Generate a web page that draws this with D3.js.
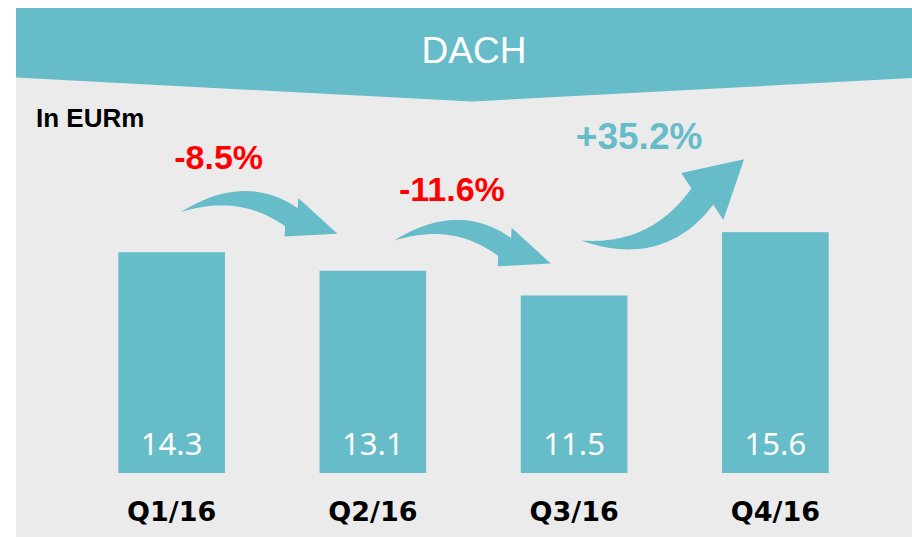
<!DOCTYPE html>
<html>
<head>
<meta charset="utf-8">
<script src="https://cdn.jsdelivr.net/npm/d3@7"></script>
<style>
  html, body { margin: 0; padding: 0; background: #fff; }
  svg { display: block; }
</style>
</head>
<body>
<div id="chart"></div>
<script>
const title = 'DACH'
const unitLabel = 'In EURm'
const categories = ['Q1/16', 'Q2/16', 'Q3/16', 'Q4/16']
const values = [14.3, 13.1, 11.5, 15.6]
const changes = ['-8.5%', '-11.6%', '+35.2%']

const width = 912
const height = 537
const teal = '#66bcc8'
const panel = '#ebebeb'

const svg = d3.select('#chart').append('svg')
  .attr('width', width)
  .attr('height', height)

// grey panel + banner
svg.append('rect')
  .attr('x', 16).attr('y', 8)
  .attr('width', width - 16).attr('height', height - 8)
  .attr('fill', panel)

svg.append('path')
  .attr('d', 'M16,8 L912,8 L912,78 L472,101.5 L16,77.5 Z')
  .attr('fill', teal)

svg.append('text')
  .attr('x', 474).attr('y', 63)
  .attr('text-anchor', 'middle')
  .attr('font-family', '"Liberation Sans", Arial, sans-serif')
  .attr('font-size', 37)
  .attr('fill', '#fff')
  .text(title)

svg.append('text')
  .attr('x', 36).attr('y', 127)
  .attr('font-family', '"Liberation Sans", Arial, sans-serif')
  .attr('font-weight', 'bold')
  .attr('font-size', 26)
  .attr('fill', '#000')
  .text(unitLabel)

const xScale = d3.scaleBand()
  .domain(categories)
  .range([71, 876])
  .paddingInner(0.47)
  .paddingOuter(0.235)

const yScale = d3.scaleLinear()
  .domain([0, 16])
  .range([473, 226])

// bars
svg.append('g').selectAll('rect')
  .data(values)
  .join('rect')
  .attr('x', (d, i) => xScale(categories[i]))
  .attr('y', d => yScale(d))
  .attr('width', xScale.bandwidth())
  .attr('height', d => yScale(0) - yScale(d))
  .attr('fill', teal)

// values inside bars
svg.append('g').selectAll('text')
  .data(values)
  .join('text')
  .attr('x', (d, i) => xScale(categories[i]) + xScale.bandwidth() / 2)
  .attr('y', yScale(0) - 18)
  .attr('text-anchor', 'middle')
  .attr('font-family', '"Noto Sans", "Open Sans", sans-serif')
  .attr('font-size', 31)
  .attr('fill', '#fff')
  .text(d => d.toFixed(1))

// category labels
svg.append('g').selectAll('text')
  .data(categories)
  .join('text')
  .attr('x', d => xScale(d) + xScale.bandwidth() / 2)
  .attr('y', yScale(0) + 48)
  .attr('text-anchor', 'middle')
  .attr('font-family', '"DejaVu Sans", sans-serif')
  .attr('font-weight', 'bold')
  .attr('font-size', 27)
  .attr('fill', '#000')
  .text(d => d)

// curved arrow: tapered quadratic shaft + triangular head
function arrowPath(T, P, o) {
  const ha = o.headAngle * Math.PI / 180
  const hd = [Math.cos(ha), Math.sin(ha)]
  const B = [P[0] - o.headLen * hd[0], P[1] - o.headLen * hd[1]]
  const C = [T[0] + o.cdx, T[1] + o.cdy]
  const n = 40
  const side1 = []
  const side2 = []
  for (let i = 0; i <= n; i++) {
    const t = i / n
    const u = 1 - t
    const px = u * u * T[0] + 2 * u * t * C[0] + t * t * B[0]
    const py = u * u * T[1] + 2 * u * t * C[1] + t * t * B[1]
    const dx = 2 * u * (C[0] - T[0]) + 2 * t * (B[0] - C[0])
    const dy = 2 * u * (C[1] - T[1]) + 2 * t * (B[1] - C[1])
    const len = Math.sqrt(dx * dx + dy * dy) || 1
    const nx = -dy / len
    const ny = dx / len
    const w = o.shaftWidth * Math.sin(t * Math.PI / 2) / 2
    side1.push([px + nx * w, py + ny * w])
    side2.push([px - nx * w, py - ny * w])
  }
  const nrm = [-hd[1], hd[0]]
  const h1 = [B[0] + nrm[0] * o.headWidth / 2, B[1] + nrm[1] * o.headWidth / 2]
  const h2 = [B[0] - nrm[0] * o.headWidth / 2, B[1] - nrm[1] * o.headWidth / 2]
  const pts = side1.concat([h1, P, h2], side2.reverse())
  return 'M' + pts.map(p => p[0].toFixed(1) + ',' + p[1].toFixed(1)).join('L') + 'Z'
}

// arrow anchors relative to bar tops (tail from bar i, tip near bar i+1)
const arrowStyles = [
  { tdx: 9, tdy: -40, pdx: 18, pdy: -37, cdx: 62, cdy: -29, headAngle: 19.7, headLen: 49, headWidth: 41, shaftWidth: 22, ldx: 38, ldy: -43, fs: 34 },
  { tdx: 21, tdy: -30, pdx: 30, pdy: -32, cdx: 62, cdy: -29, headAngle: 19.7, headLen: 49, headWidth: 41, shaftWidth: 22, ldx: 58, ldy: -40, fs: 34 },
  { tdx: 7, tdy: -55, pdx: 22, pdy: -73, cdx: 77, cdy: 16, headAngle: -41.8, headLen: 56, headWidth: 63, shaftWidth: 27, ldx: 58, ldy: -91, fs: 37 }
]

const arrowGroup = svg.append('g')
changes.forEach((c, i) => {
  const o = arrowStyles[i]
  const T = [
    xScale(categories[i]) + xScale.bandwidth() / 2 + o.tdx,
    yScale(values[i]) + o.tdy
  ]
  const P = [
    xScale(categories[i + 1]) + o.pdx,
    yScale(values[i + 1]) + o.pdy
  ]
  arrowGroup.append('path')
    .attr('d', arrowPath(T, P, o))
    .attr('fill', teal)

  arrowGroup.append('text')
    .attr('x', T[0] + o.ldx)
    .attr('y', T[1] + o.ldy)
    .attr('text-anchor', 'middle')
    .attr('font-family', '"Liberation Sans", Arial, sans-serif')
    .attr('font-weight', 'bold')
    .attr('font-size', o.fs)
    .attr('fill', c.startsWith('-') ? '#ff0000' : teal)
    .text(c)
})
</script>
</body>
</html>
